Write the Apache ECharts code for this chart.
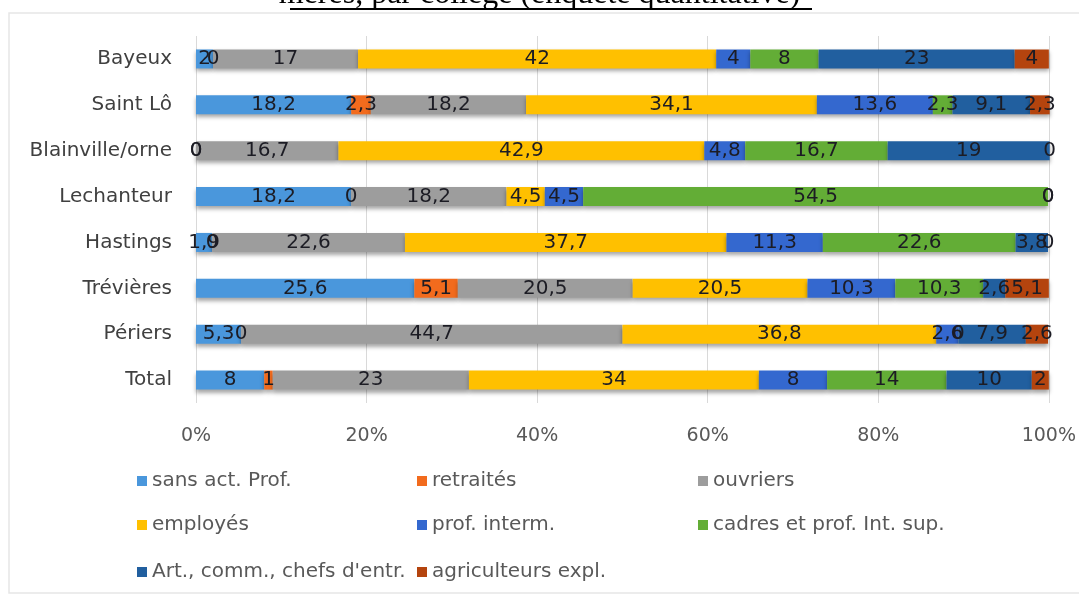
<!DOCTYPE html>
<html>
<head>
<meta charset="utf-8">
<script src="https://cdn.jsdelivr.net/npm/echarts@6/dist/echarts.min.js"></script>
<style>
html,body{margin:0;padding:0;background:#fff;}
#c{width:1079px;height:597px;}
</style>
</head>
<body>
<div id="c"></div>
<script>
var categories = ["Bayeux", "Saint Lô", "Blainville/orne", "Lechanteur", "Hastings", "Trévières", "Périers", "Total"];
var seriesNames = ["sans act. Prof.", "retraités", "ouvriers", "employés", "prof. interm.", "cadres et prof. Int. sup.", "Art., comm., chefs d'entr.", "agriculteurs expl."];
var sansAct      = [2, 18.2, 0, 18.2, 1.9, 25.6, 5.3, 8];
var retraites    = [0, 2.3, 0, 0, 0, 5.1, 0, 1];
var ouvriers     = [17, 18.2, 16.7, 18.2, 22.6, 20.5, 44.7, 23];
var employes     = [42, 34.1, 42.9, 4.5, 37.7, 20.5, 36.8, 34];
var profInterm   = [4, 13.6, 4.8, 4.5, 11.3, 10.3, 2.6, 8];
var cadres       = [8, 2.3, 16.7, 54.5, 22.6, 10.3, 0, 14];
var artComm      = [23, 9.1, 19, 0, 3.8, 2.6, 7.9, 10];
var agriculteurs = [4, 2.3, 0, 0, 0, 5.1, 2.6, 2];
var xTicks = ["0%", "20%", "40%", "60%", "80%", "100%"];
var titleText = "mères, par collège (enquête quantitative)";

var colors = ["#4a97dc", "#f26b1d", "#9d9d9d", "#ffc000", "#3468cf", "#63ad36", "#215f9f", "#b4440e"];
var values = [sansAct, retraites, ouvriers, employes, profInterm, cadres, artComm, agriculteurs];
var FONT = "DejaVu Sans";

var chart = echarts.init(document.getElementById('c'));
var series = seriesNames.map(function (n, i) {
  return {
    name: n, type: 'bar', stack: 'all', barWidth: 19, clip: false,
    itemStyle: { color: colors[i], shadowColor: 'rgba(0,0,0,0.35)', shadowBlur: 4, shadowOffsetY: 3 },
    label: {
      show: true, position: 'inside', fontFamily: FONT, fontSize: 20, color: '#1c1c24',
      formatter: function (p) { return String(p.value).replace('.', ','); }
    },
    data: values[i]
  };
});

var legendPos = [[132, 466], [412, 466], [693, 466], [132, 510], [412, 510], [693, 510], [132, 557], [412, 557]];
var legends = seriesNames.map(function (n, i) {
  return {
    data: [n], left: legendPos[i][0], top: legendPos[i][1], itemWidth: 10, itemHeight: 10, itemGap: 4,
    icon: 'rect', textStyle: { fontFamily: FONT, fontSize: 20, color: '#595959' }
  };
});

chart.setOption({
  animation: false,
  color: colors,
  title: {
    text: titleText, left: 'center', top: -26,
    textStyle: { fontFamily: 'Liberation Serif', fontSize: 32, fontWeight: 'normal', color: '#000' }
  },
  graphic: [
    { type: 'line', shape: { x1: 290, y1: 9, x2: 812, y2: 9 }, style: { stroke: '#000', lineWidth: 2 } },
    { type: 'rect', shape: { x: 9, y: 13, width: 1120, height: 580 }, style: { fill: 'none', stroke: '#e6e6e6', lineWidth: 1.5 } }
  ],
  legend: legends,
  grid: { left: 196, right: 30, top: 36, bottom: 194 },
  xAxis: {
    type: 'value', min: 0, max: 100, interval: 20,
    axisLine: { show: false }, axisTick: { show: false },
    splitLine: { lineStyle: { color: '#d9d9d9' } },
    axisLabel: {
      fontFamily: FONT, fontSize: 19, color: '#595959', margin: 24,
      formatter: function (v) { return xTicks[Math.round(v / 20)]; }
    }
  },
  yAxis: {
    type: 'category', data: categories, inverse: true,
    axisLine: { show: false }, axisTick: { show: false },
    axisLabel: { fontFamily: FONT, fontSize: 20, color: '#404040', margin: 24 }
  },
  series: series
});
</script>
</body>
</html>
